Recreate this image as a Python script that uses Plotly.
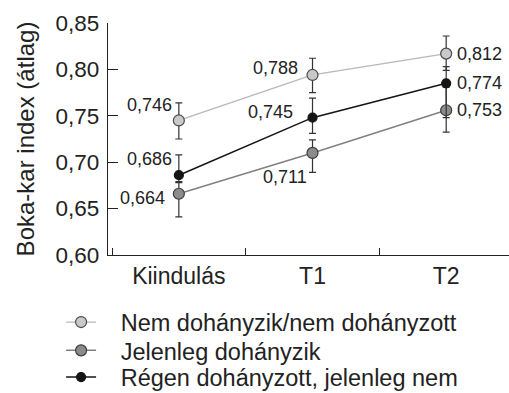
import plotly.graph_objects as go

categories = ["Kiindulás", "T1", "T2"]

series_names = ["Nem dohányzik/nem dohányzott", "Jelenleg dohányzik", "Régen dohányzott, jelenleg nem"]

never_vals = [0.745, 0.794, 0.817]
never_labels = ["0,746", "0,788", "0,812"]
never_err_up = [0.019, 0.018, 0.019]
never_err_dn = [0.020, 0.019, 0.018]

current_vals = [0.666, 0.710, 0.756]
current_labels = ["0,664", "0,711", "0,753"]
current_err_up = [0.012, 0.014, 0.025]
current_err_dn = [0.025, 0.021, 0.0235]

former_vals = [0.686, 0.748, 0.785]
former_labels = ["0,686", "0,745", "0,774"]
former_err_up = [0.022, 0.021, 0.018]
former_err_dn = [0.007, 0.017, 0.037]

y_ticks = [0.60, 0.65, 0.70, 0.75, 0.80, 0.85]
y_ticktext = ["0,60", "0,65", "0,70", "0,75", "0,80", "0,85"]

FONT = "Liberation Sans, Arial, sans-serif"
PAD = "\u00a0\u00a0\u00a0"

styles = [
    dict(line="#b8b8b8", fill="#c9c9c9", edge="#4a4a4a", size=11, lw=1.3),
    dict(line="#808080", fill="#8c8c8c", edge="#3a3a3a", size=11, lw=1.5),
    dict(line="#151515", fill="#151515", edge="#151515", size=9, lw=1.5),
]

data = [
    (never_vals, never_err_up, never_err_dn, never_labels),
    (current_vals, current_err_up, current_err_dn, current_labels),
    (former_vals, former_err_up, former_err_dn, former_labels),
]

# label offsets (xanchor, xshift, yshift) per series per category
label_pos = [
    [("right", -5, 15), ("right", -13, 7), ("left", 9, 0)],
    [("right", -12, -4), ("right", -4, -24), ("left", 9, 0)],
    [("right", -5, 16), ("right", -18, 6), ("left", 9, 0)],
]

legend_ids = ["legend", "legend2", "legend3"]
legend_y = [-0.29, -0.412, -0.527]

fig = go.Figure()
for name, (vals, eu, ed, labs), st, lid in zip(series_names, data, styles, legend_ids):
    fig.add_trace(go.Scatter(
        x=categories, y=vals, name=PAD + name, mode="lines+markers", legend=lid,
        line=dict(color=st["line"], width=st["lw"]),
        marker=dict(color=st["fill"], size=st["size"], line=dict(color=st["edge"], width=1.2)),
        error_y=dict(type="data", symmetric=False, array=eu, arrayminus=ed,
                     color="#333333", thickness=1.2, width=3.5),
    ))

annotations = []
for (vals, eu, ed, labs), pos in zip(data, label_pos):
    for c, v, t, (xa, xs, ys) in zip(categories, vals, labs, pos):
        annotations.append(dict(
            x=c, y=v, text=t, showarrow=False, xanchor=xa, yanchor="middle",
            xshift=xs, yshift=ys, font=dict(family=FONT, size=18, color="#222222"),
        ))

legend_layout = {}
for lid, ly in zip(legend_ids, legend_y):
    legend_layout[lid] = dict(
        orientation="v", x=-0.117, xanchor="left", y=ly, yanchor="middle",
        font=dict(family=FONT, size=23.5, color="#222222"),
        bgcolor="rgba(0,0,0,0)", itemwidth=30,
    )

fig.update_layout(
    width=509, height=393,
    margin=dict(l=108, r=0, t=23, b=138, autoexpand=False),
    paper_bgcolor="white", plot_bgcolor="white",
    font=dict(family=FONT, color="#222222"),
    showlegend=True,
    annotations=annotations,
    xaxis=dict(
        type="category", range=[-0.53, 2.47], showline=True, linecolor="#222222", linewidth=1.2,
        ticks="inside", tickson="boundaries", ticklen=7, tickcolor="#222222", tickwidth=1.2,
        showgrid=False, zeroline=False, ticklabelstandoff=0,
        tickfont=dict(family=FONT, size=23, color="#222222"),
    ),
    yaxis=dict(
        range=[0.6, 0.85], tickvals=y_ticks, ticktext=y_ticktext,
        showline=True, linecolor="#222222", linewidth=1.2,
        ticks="inside", ticklen=10, tickcolor="#222222", tickwidth=1.2,
        showgrid=False, zeroline=False, ticklabelstandoff=3,
        tickfont=dict(family=FONT, size=22.5, color="#222222"),
        title=dict(text="Boka-kar index (átlag)", font=dict(family=FONT, size=24, color="#222222"), standoff=14),
    ),
    **legend_layout,
)

fig.write_html("out.html")
